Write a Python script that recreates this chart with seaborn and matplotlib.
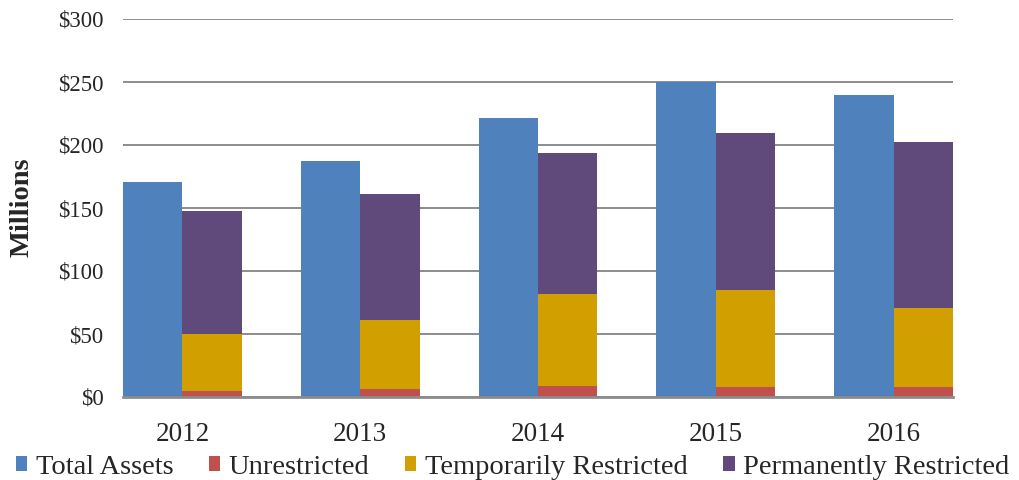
import matplotlib
matplotlib.use("Agg")
import matplotlib.pyplot as plt
from matplotlib.patches import Patch
import seaborn as sns
import pandas as pd
import numpy as np

years = ["2012", "2013", "2014", "2015", "2016"]
total_assets = [170.5, 187.5, 221.5, 250.0, 239.5]
unrestricted = [5.0, 6.0, 9.0, 7.7, 7.7]
temporarily = [45.0, 55.0, 72.5, 77.0, 63.0]
permanently = [97.5, 100.0, 112.5, 124.5, 132.0]

series_names = ["Total Assets", "Unrestricted", "Temporarily Restricted", "Permanently Restricted"]
colors = {"Total Assets": "#4F81BD", "Unrestricted": "#C0504D",
          "Temporarily Restricted": "#D29F00", "Permanently Restricted": "#604A7B"}

sns.set_theme(style="white")
plt.rcParams["font.family"] = ["Liberation Serif", "DejaVu Serif"]

fig = plt.figure(figsize=(10.19, 4.8), dpi=100)
ax = fig.add_axes([123/1019, 1-397/480, (953-123)/1019, (397-19)/480])

unr = np.array(unrestricted)
tmp_cum = unr + np.array(temporarily)
perm_cum = tmp_cum + np.array(permanently)

def layer(total_vals, stack_vals, stack_color):
    df = pd.DataFrame({
        "year": years * 2,
        "group": ["Total"] * len(years) + ["Stack"] * len(years),
        "value": list(total_vals) + list(stack_vals),
    })
    sns.barplot(data=df, x="year", y="value", hue="group", hue_order=["Total", "Stack"],
                palette={"Total": colors["Total Assets"], "Stack": stack_color},
                width=0.668, dodge=True, linewidth=0, legend=False, ax=ax, errorbar=None,
                saturation=1, order=years)

layer(total_assets, perm_cum, colors["Permanently Restricted"])
layer([0]*5, tmp_cum, colors["Temporarily Restricted"])
layer([0]*5, unr, colors["Unrestricted"])

ax.set_xlim(-0.334, 4.334)
ax.set_ylim(0, 300)
ax.set_yticks(range(0, 301, 50))
ax.set_yticklabels([f"${v}" for v in range(0, 301, 50)], fontsize=16.5)
ax.tick_params(axis="y", length=0, pad=14)
ax.tick_params(axis="x", length=0, pad=18, labelsize=19.5)
ax.set_xlabel("")
ax.set_ylabel("")
ax.grid(axis="y", color="#8C8C8C", linewidth=1.4)
ax.set_axisbelow(True)
for s in ["left", "right", "top"]:
    ax.spines[s].set_visible(False)
ax.spines["bottom"].set_color("#8C8C8C")
ax.spines["bottom"].set_linewidth(2)
ax.spines["bottom"].set_zorder(5)

fig.text(22/1019, 1-207/480, "Millions", rotation=90, ha="center", va="center",
         fontsize=20.5, fontweight="bold")

handles = [Patch(facecolor=colors[n], edgecolor="none", label=n) for n in series_names]
fig.legend(handles=handles, loc="center", bbox_to_anchor=(0.503, 1-467/480), ncol=4,
           frameon=False, fontsize=20.5, handlelength=0.4, handleheight=0.4,
           handletextpad=0.3, columnspacing=1.25, borderpad=0, borderaxespad=0)

fig.savefig("out.png", dpi=100)
